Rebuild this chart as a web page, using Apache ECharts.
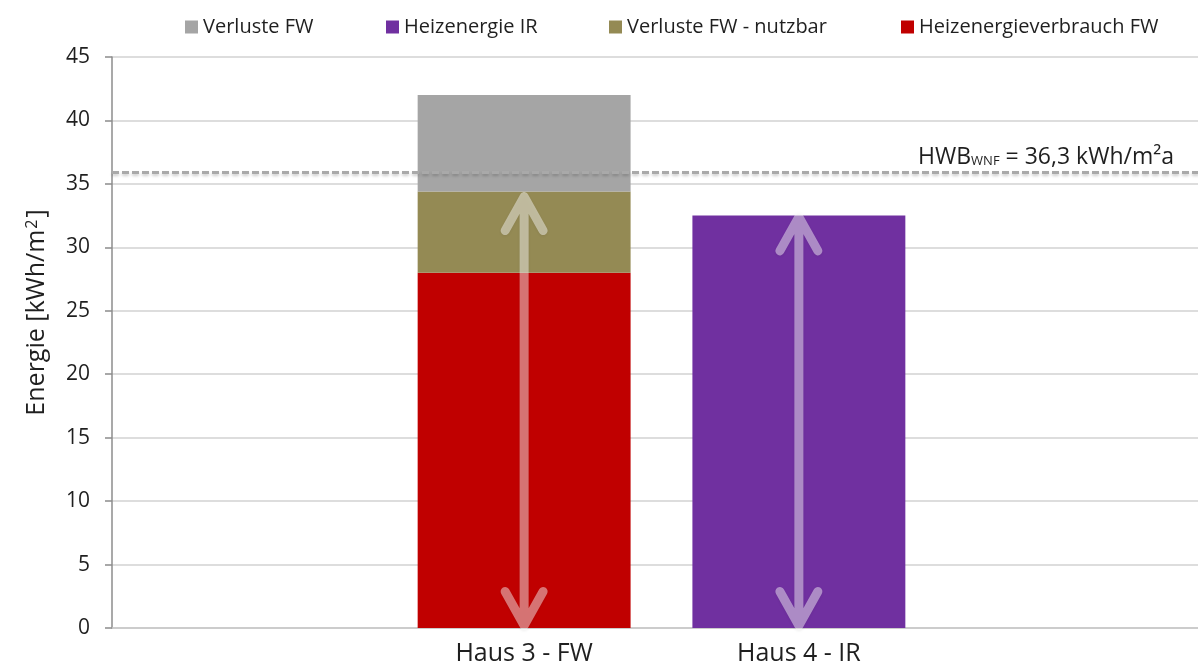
<!DOCTYPE html>
<html>
<head>
<meta charset="utf-8">
<script src="https://cdn.jsdelivr.net/npm/echarts@6/dist/echarts.min.js"></script>
<style>
  html, body { margin: 0; padding: 0; background: #fff; overflow: hidden; }
  /* plot runs a little past the right edge of the picture, like the original */
  #chart { width: 1211px; height: 666px; }
</style>
</head>
<body>
<div id="chart"></div>
<script>
// data
const categories = ['', 'Haus 3 - FW', 'Haus 4 - IR', ''];
const heizverbrauchFW = ['-', 28.0, '-', '-'];
const verlusteNutzbar = ['-', 6.4, '-', '-'];
const verlusteFW = ['-', 7.6, '-', '-'];
const heizenergieIR = ['-', '-', 32.5, '-'];
const hwbLine = 35.9;
const hwbText = '36,3';
// arrows: category, bottom, top
const arrowCats = ['Haus 3 - FW', 'Haus 4 - IR'];
const arrowBottom = [0.2, 0.2];
const arrowTop = [34.0, 32.4];

const font = 'Open Sans';
const textColor = '#1f1f1f';

const chart = echarts.init(document.getElementById('chart'));

function legendItem(name, left) {
  return {
    data: [name],
    left: left,
    top: 12,
    icon: 'rect',
    itemWidth: 13,
    itemHeight: 13,
    textStyle: { fontFamily: font, fontSize: 20, color: textColor },
  };
}

function arrowItem(params, api) {
  const top = api.coord([api.value(0), api.value(2)]);
  const bot = api.coord([api.value(0), api.value(1)]);
  const x = top[0];
  const hw = 19;
  const hh = 34;
  return {
    type: 'polyline',
    shape: {
      points: [
        [x - hw, top[1] + hh], [x, top[1]], [x + hw, top[1] + hh], [x, top[1]],
        [x, bot[1]],
        [x - hw, bot[1] - hh], [x, bot[1]], [x + hw, bot[1] - hh],
      ],
    },
    style: {
      fill: null,
      stroke: 'rgba(255,255,255,0.45)',
      lineWidth: 9,
      lineCap: 'round',
      lineJoin: 'round',
      shadowBlur: 3,
      shadowColor: 'rgba(0,0,0,0.15)',
      shadowOffsetY: 1,
    },
  };
}

const barBase = {
  type: 'bar',
  stack: 'total',
  barWidth: '77.5%',
  silent: true,
};

const option = {
  animation: false,
  legend: [
    legendItem('Verluste FW', 180),
    legendItem('Heizenergie IR', 381),
    legendItem('Verluste FW - nutzbar', 604),
    legendItem('Heizenergieverbrauch FW', 896),
  ],
  grid: { left: 112, right: 0, top: 57, bottom: 37 },
  xAxis: {
    type: 'category',
    data: categories,
    axisLine: { lineStyle: { color: '#c6c6c6', width: 1.5 } },
    axisTick: { show: false },
    axisLabel: { fontFamily: font, fontSize: 25, color: textColor, margin: 13 },
  },
  yAxis: {
    type: 'value',
    min: 0,
    max: 45,
    interval: 5,
    name: 'Energie [kWh/m{sup|2}]',
    nameLocation: 'middle',
    nameGap: 62,
    nameTextStyle: {
      fontFamily: font,
      fontSize: 25,
      color: textColor,
      padding: [0, 0, 0, 60],
      rich: {
        sup: { fontFamily: font, fontSize: 16, color: textColor, verticalAlign: 'top', padding: [0, 2, 10, 1] },
      },
    },
    axisLine: { show: true, lineStyle: { color: '#8c8c8c', width: 1.5 } },
    axisTick: { show: true, length: 7, lineStyle: { color: '#8c8c8c', width: 1.5 } },
    axisLabel: { fontFamily: font, fontSize: 21, color: textColor, margin: 22 },
    splitLine: { lineStyle: { color: '#d2d2d2', width: 1.5 } },
  },
  series: [
    Object.assign({}, barBase, {
      name: 'Heizenergieverbrauch FW',
      data: heizverbrauchFW,
      itemStyle: { color: '#c00000' },
    }),
    Object.assign({}, barBase, {
      name: 'Verluste FW - nutzbar',
      data: verlusteNutzbar,
      itemStyle: { color: '#948a54' },
    }),
    Object.assign({}, barBase, {
      name: 'Verluste FW',
      data: verlusteFW,
      itemStyle: { color: '#a5a5a5' },
    }),
    Object.assign({}, barBase, {
      name: 'Heizenergie IR',
      data: heizenergieIR,
      itemStyle: { color: '#7030a0' },
    }),
    {
      type: 'custom',
      name: 'arrows',
      silent: true,
      z: 5,
      renderItem: arrowItem,
      data: arrowCats.map((c, i) => [categories.indexOf(c), arrowBottom[i], arrowTop[i]]),
      markLine: {
        silent: true,
        symbol: 'none',
        lineStyle: {
          type: [7, 3],
          width: 3,
          color: '#a9a9a9',
          shadowBlur: 3,
          shadowColor: 'rgba(0,0,0,0.2)',
          shadowOffsetY: 2,
        },
        label: {
          position: 'insideEndTop',
          distance: [37, 4],
          fontFamily: font,
          fontSize: 23,
          color: textColor,
          formatter: 'HWB{s|WNF} = ' + hwbText + ' kWh/m²a',
          rich: {
            s: { fontFamily: font, fontSize: 13, color: textColor, verticalAlign: 'bottom', padding: [0, 0, 1, 0] },
          },
        },
        data: [{ yAxis: hwbLine }],
      },
    },
  ],
};

chart.setOption(option);
</script>
</body>
</html>
